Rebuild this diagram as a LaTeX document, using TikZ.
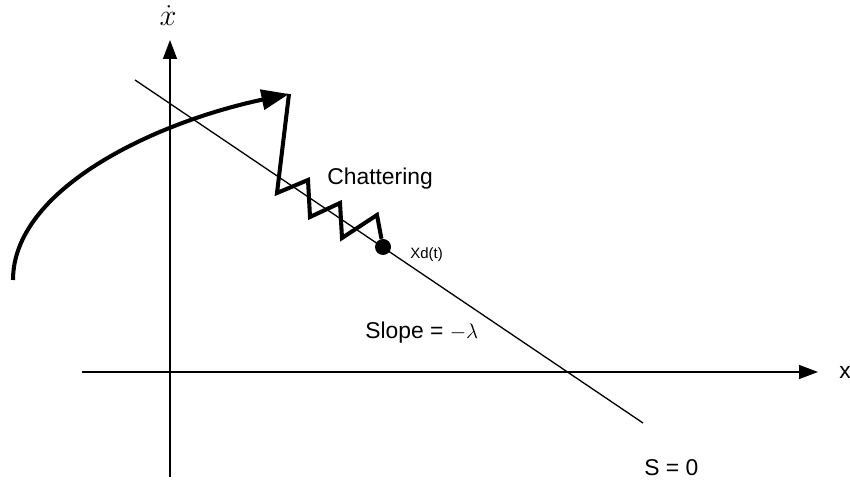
\documentclass[tikz,border=0pt]{standalone}
\usepackage{fontspec}
\setmainfont{Liberation Sans}
\usetikzlibrary{arrows.meta}

\begin{document}
\begin{tikzpicture}[
  axisline/.style={line width=0.85pt, -{Triangle[length=3.8mm,width=2.8mm]}},
  surface/.style={line width=0.75pt},
  trajectory/.style={line width=2.3pt, -{Triangle[length=5.5mm,width=4mm]}},
  chatter/.style={line width=2.3pt, line join=miter},
  txt/.style={font=\fontsize{13}{15}\selectfont, inner sep=0pt, anchor=west}]
  \useasboundingbox (0,0) rectangle (17,9.68);

  % axes
  \coordinate (vbot) at (3.4,0.14);
  \coordinate (vtop) at (3.4,8.88);
  \coordinate (hleft) at (1.64,2.24);
  \coordinate (hright) at (16.36,2.24);
  \draw[axisline] (vbot) -- (vtop);
  \draw[axisline] (hleft) -- (hright);
  \node[font=\fontsize{19}{22}\selectfont, inner sep=0pt, anchor=base] (xdot) at (3.36,9.16) {$\dot{x}$};
  \node[txt] (xlab) at (16.78,2.24) {x};

  % sliding surface
  \coordinate (sstart) at (2.7,8.08);
  \coordinate (send) at (12.86,1.22);
  \draw[surface] (sstart) -- (send);
  \node[txt] (slab) at (12.88,0.32) {S = 0};
  \node[txt] (slope) at (7.3,3.02) {Slope = $-\lambda$};

  % reaching phase
  \coordinate (reach) at (0.26,4.08);
  \coordinate (hit) at (5.78,7.8);
  \draw[trajectory] (reach) .. controls (0.26,5.88) and (3.04,7.22) .. (hit);

  % chattering along the surface
  \node[circle, fill, inner sep=0pt, minimum size=3.2mm] (xd) at (7.66,4.74) {};
  \draw[chatter] (hit) -- (5.54,5.82) -- (6.16,6.08) -- (6.2,5.34) -- (6.8,5.62)
    -- (6.84,4.92) -- (7.54,5.38) -- (xd);
  \node[txt] (chat) at (6.54,6.1) {Chattering};
  \node[font=\fontsize{8.5}{10}\selectfont, inner sep=0pt, anchor=west] (xdlab) at (8.2,4.58) {Xd(t)};
\end{tikzpicture}
\end{document}
